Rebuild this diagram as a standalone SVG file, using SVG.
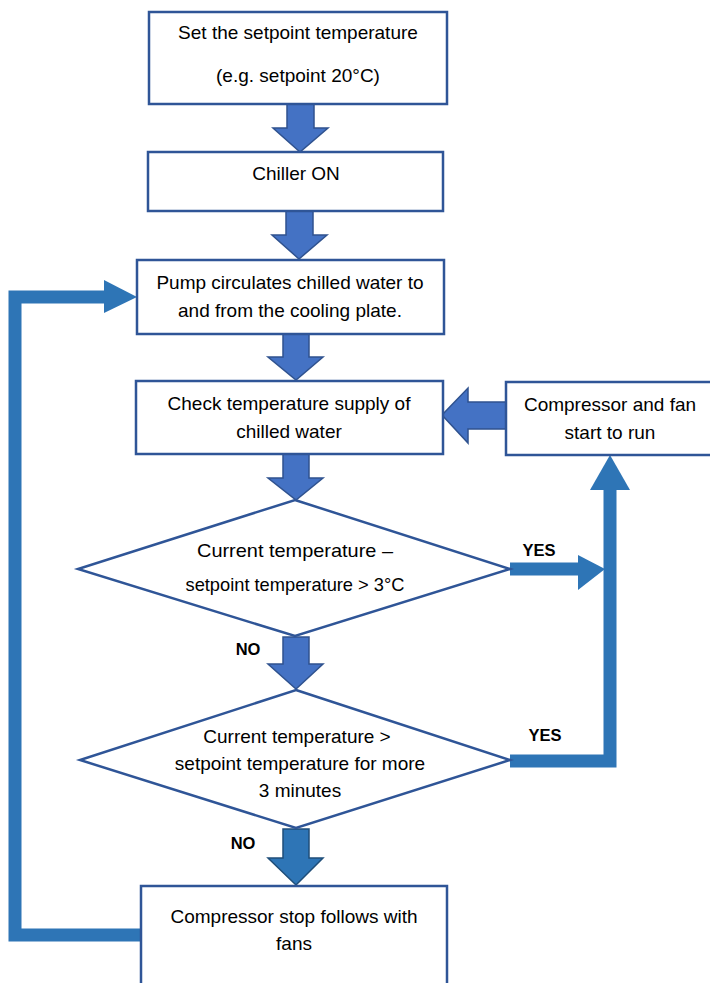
<svg xmlns="http://www.w3.org/2000/svg" width="710" height="983" viewBox="0 0 710 983">
<defs>
<style>
.box{fill:#fff;stroke:#2F5597;stroke-width:2.5}
.dia{fill:#fff;stroke:#2F5597;stroke-width:2.5}
.t{font-family:"Liberation Sans",Arial,sans-serif;font-size:19px;fill:#000;text-anchor:middle}
.b{font-family:"Liberation Sans",Arial,sans-serif;font-size:16.5px;font-weight:bold;fill:#000;text-anchor:middle}
.ba{fill:#4472C4;stroke:#2F528F;stroke-width:1.5;stroke-linejoin:miter}
.ba2{fill:#2E75B6;stroke:#1F4E79;stroke-width:1.5}
.line{fill:none;stroke:#2E75B6;stroke-width:13}
.head{fill:#2E75B6}
</style>
</defs>
<rect width="710" height="983" fill="#fff"/>
<g id="connectors">
<path class="ba" d="M287,104 H314 V128 H328 L300,152 L273,128 H287 Z"/>
<path class="ba" d="M286,211 H313 V235 H327 L299,259 L272,235 H286 Z"/>
<path class="ba" d="M283,334 H309 V357 H323 L296,380 L268,357 H283 Z"/>
<path class="ba" d="M283,454 H309 V478 H323 L296,500 L268,478 H283 Z"/>
<path class="ba" d="M283,637 H309 V664 H323 L296,689 L268,664 H283 Z"/>
<path class="ba2" d="M283,829 H309 V858 H323 L296,885 L268,858 H283 Z"/>
<path class="ba" d="M506,402 V429 H468 V443 L442,415 L468,388 V402 Z"/>
<path class="line" d="M510,569 H580"/>
<polygon class="head" points="578,555 605,569 578,590"/>
<path class="line" d="M510,761 H610 V488"/>
<polygon class="head" points="590,490 610,455 630,490"/>
<path class="line" d="M140,935 H15 V297 H106"/>
<polygon class="head" points="104,280 137,297 104,313"/>
<text class="b" x="539" y="556">YES</text>
<text class="b" x="545" y="741">YES</text>
<text class="b" x="248" y="655">NO</text>
<text class="b" x="243" y="849">NO</text>
</g>
<g id="n1">
<rect class="box" x="149" y="12" width="298" height="92"/>
<text class="t" x="298" y="39">Set the setpoint temperature</text>
<text class="t" x="298" y="82">(e.g. setpoint 20°C)</text>
</g>
<g id="n2">
<rect class="box" x="148" y="152" width="295" height="59"/>
<text class="t" x="296" y="180">Chiller ON</text>
</g>
<g id="n3">
<rect class="box" x="137" y="260" width="307" height="74"/>
<text class="t" x="290" y="289">Pump circulates chilled water to</text>
<text class="t" x="290" y="317">and from the cooling plate.</text>
</g>
<g id="n4">
<rect class="box" x="136" y="381" width="307" height="73"/>
<text class="t" x="289" y="410">Check temperature supply of</text>
<text class="t" x="289" y="438">chilled water</text>
</g>
<g id="n5">
<rect class="box" x="506" y="382" width="210" height="73"/>
<text class="t" x="610" y="411">Compressor and fan</text>
<text class="t" x="610" y="439">start to run</text>
</g>
<g id="d1">
<polygon class="dia" points="295,500 510,569 295,636 78,569"/>
<text class="t" x="295" y="557" textLength="196" lengthAdjust="spacingAndGlyphs">Current temperature –</text>
<text class="t" x="295" y="591" textLength="219" lengthAdjust="spacingAndGlyphs">setpoint temperature &gt; 3°C</text>
</g>
<g id="d2">
<polygon class="dia" points="296,690 510,760 296,828 80,760"/>
<text class="t" x="297" y="743">Current temperature &gt;</text>
<text class="t" x="300" y="770">setpoint temperature for more</text>
<text class="t" x="300" y="797">3 minutes</text>
</g>
<g id="n6">
<rect class="box" x="141" y="886" width="306" height="120"/>
<text class="t" x="294" y="923">Compressor stop follows with</text>
<text class="t" x="294" y="950">fans</text>
</g>
</svg>
